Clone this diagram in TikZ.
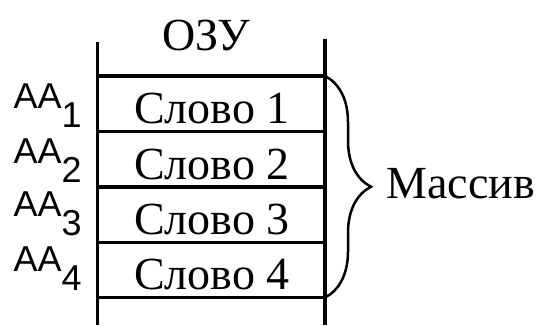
\documentclass[tikz,border=0pt]{standalone}
\usepackage{fontspec}
\setmainfont{Liberation Serif}
\newfontfamily\aafont{Liberation Sans}
\usetikzlibrary{calc,positioning,decorations.pathreplacing}

\newcommand\aalabel[1]{AA\raisebox{-19pt}{#1}}

\begin{document}
\begin{tikzpicture}[x=1pt,y=-1pt,line width=3.2pt,
		word/.style={font=\fontsize{46}{46}\selectfont,inner sep=0pt,anchor=base},
		addr/.style={font=\aafont\fontsize{36}{36}\selectfont,inner sep=0pt,anchor=base west}]
	\useasboundingbox (0,0) rectangle (543,325);
	% memory column
	\draw (97.5,42) -- (97.5,325);
	\draw (325,39) -- (325,325);
	\foreach \y in {76,131.5,187,242.5,297.5}
		\draw (97.5,\y) -- (325,\y);
	\coordinate (t) at (325,76);
	\coordinate (b) at (325,297.5);
	% words
	\node[word] (ozu) at (206,50) {ОЗУ};
	\node[word] (w1) at (212,123.5) {Слово 1};
	\node[word] (w2) at (212,179) {Слово 2};
	\node[word] (w3) at (212,234.5) {Слово 3};
	\node[word] (w4) at (212,289.5) {Слово 4};
	% addresses
	\node[addr] (a1) at (12,108.3) {\aalabel{1}};
	\node[addr] (a2) at (12,163.3) {\aalabel{2}};
	\node[addr] (a3) at (12,216) {\aalabel{3}};
	\node[addr] (a4) at (12,271.7) {\aalabel{4}};
	% array
	\draw[line width=2.5pt,decorate,decoration={brace,amplitude=46pt}] (t) -- (b);
	\node[word,anchor=base west] (arr) at (385,198) {Массив};
\end{tikzpicture}
\end{document}
